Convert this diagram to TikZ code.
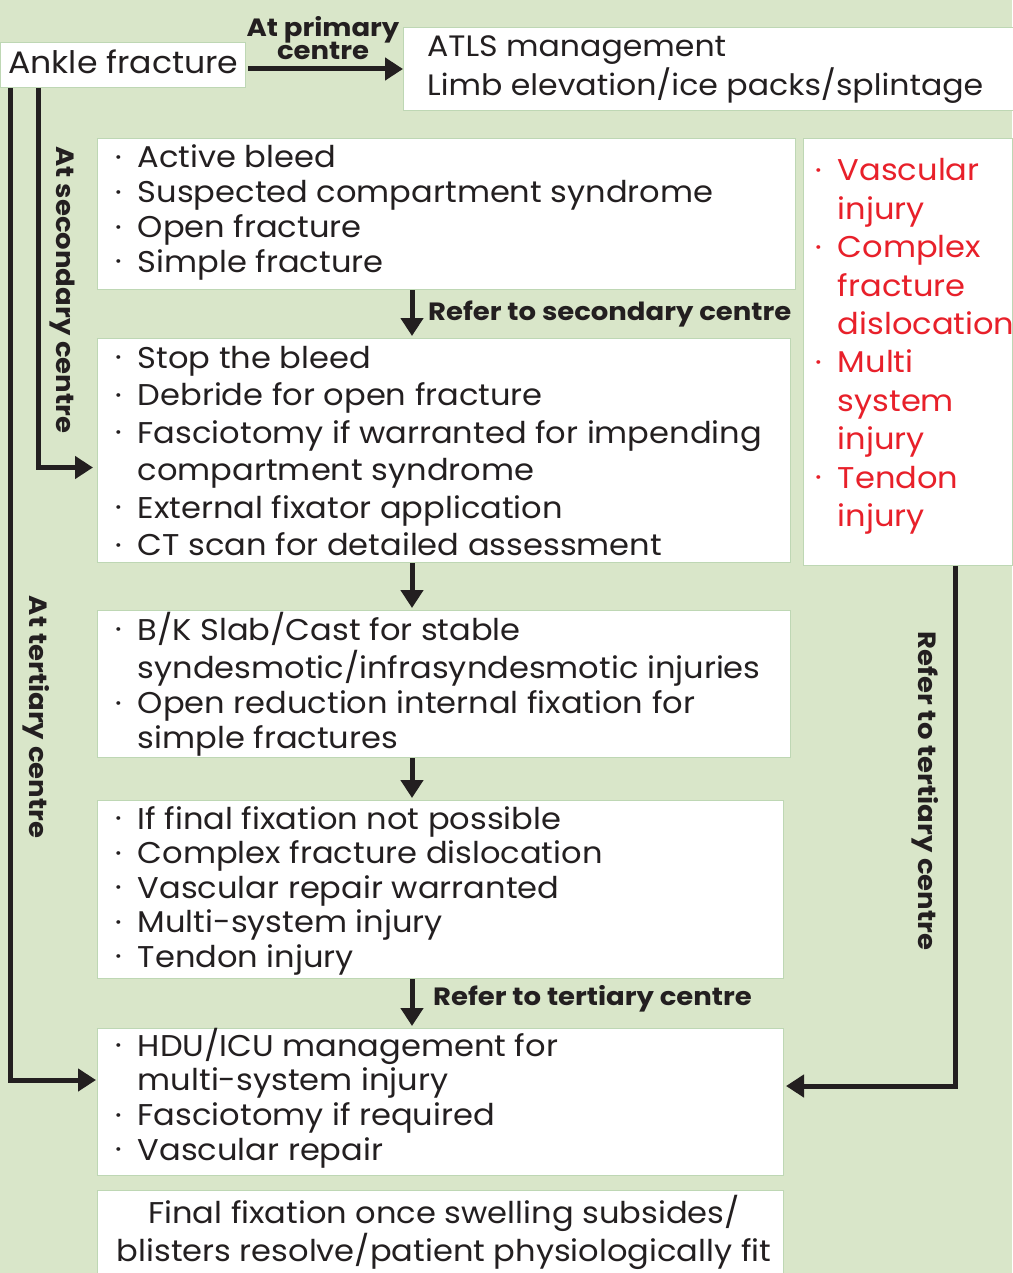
\documentclass[tikz,border=0pt]{standalone}
\usepackage{fontspec}
\setmainfont{Poppins}[FakeStretch=1.07]
\newfontfamily\lblfont{Poppins}[FakeStretch=1.1]
\usetikzlibrary{arrows.meta,calc}
\definecolor{bg}{RGB}{217,230,201}
\definecolor{edge}{RGB}{190,215,180}
\definecolor{ink}{RGB}{35,31,32}
\definecolor{redtxt}{RGB}{232,32,42}
\newcommand\fsz[2]{\fontsize{#1}{#2}\selectfont}
\newcommand\bul{\raisebox{0.32ex}{\scalebox{0.5}{•}}}
\tikzset{
  box/.style={draw=edge, line width=1pt, fill=white, inner sep=0pt, anchor=north west},
  txt/.style={inner sep=0pt, anchor=base west, text=ink},
  lbl/.style={inner sep=0pt, text=ink, font=\lblfont\bfseries\fsz{25}{24}},
  arr/.style={draw=ink, line width=5pt, -{Triangle[length=18pt,width=22pt]}},
}
\begin{document}
\begin{tikzpicture}[x=1pt,y=-1pt]
\fill[bg] (0,0) rectangle (1012,1273);
\useasboundingbox (0,0) rectangle (1012,1273);
% boxes
\node[box, minimum width=245, minimum height=45] (ankle) at (0,42) {};
\node[box, minimum width=612, minimum height=83] (atls) at (403,27) {};
\node[box, minimum width=698, minimum height=151] (b1) at (97,138) {};
\node[box, minimum width=209, minimum height=427] (red) at (803,138) {};
\node[box, minimum width=693, minimum height=224] (b2) at (97,338) {};
\node[box, minimum width=693, minimum height=147] (b3) at (97,610) {};
\node[box, minimum width=686, minimum height=178] (b4) at (97,800) {};
\node[box, minimum width=686, minimum height=147] (b5) at (97,1028) {};
\node[box, minimum width=686, minimum height=90] (b6) at (97,1190) {};
% texts
\node[txt] (tankle) at (8,74) {\fsz{31}{35}Ankle fracture};
\node[txt] (tatls) at (427,57) {\fsz{29.5}{37}\begin{tabular}[t]{@{}l@{}}ATLS management\\ Limb elevation/ice packs/splintage\end{tabular}};
\node[txt] (t1) at (115,168) {\fsz{30}{34.7}\begin{tabular}[t]{@{}l@{\hspace{16pt}}l@{}}
\bul & Active bleed\\ \bul & Suspected compartment syndrome\\ \bul & Open fracture\\ \bul & Simple fracture\end{tabular}};
\node[txt, text=redtxt] (tred) at (815,181) {\fsz{30}{38.4}\begin{tabular}[t]{@{}l@{\hspace{16pt}}l@{}}
\bul & Vascular\\ & injury\\ \bul & Complex\\ & fracture\\ & dislocation\\ \bul & Multi\\ & system\\ & injury\\ \bul & Tendon\\ & injury\end{tabular}};
\node[txt] (t2) at (115,368) {\fsz{30}{37.5}\begin{tabular}[t]{@{}l@{\hspace{16pt}}l@{}}
\bul & Stop the bleed\\ \bul & Debride for open fracture\\ \bul & Fasciotomy if warranted for impending\\ & compartment syndrome\\ \bul & External fixator application\\ \bul & CT scan for detailed assessment\end{tabular}};
\node[txt] (t3) at (115,640) {\fsz{30}{34.7}\begin{tabular}[t]{@{}l@{\hspace{16pt}}l@{}}
\bul & B/K Slab/Cast for stable\\ & syndesmotic/infrasyndesmotic injuries\\ \bul & Open reduction internal fixation for\\ & simple fractures\end{tabular}};
\node[txt] (t4) at (115,829) {\fsz{30}{34.5}\begin{tabular}[t]{@{}l@{\hspace{16pt}}l@{}}
\bul & If final fixation not possible\\ \bul & Complex fracture dislocation\\ \bul & Vascular repair warranted\\ \bul & Multi-system injury\\ \bul & Tendon injury\end{tabular}};
\node[txt] (t5) at (115,1056) {\fsz{30}{34.7}\begin{tabular}[t]{@{}l@{\hspace{16pt}}l@{}}
\bul & HDU/ICU management for\\ & multi-system injury\\ \bul & Fasciotomy if required\\ \bul & Vascular repair\end{tabular}};
\node[txt, anchor=base] (t6) at (444,1223) {\fsz{30}{35}\begin{tabular}[t]{@{}c@{}}Final fixation once swelling subsides/\\ blisters resolve/patient physiologically fit\end{tabular}};
% connectors
\coordinate (col) at (412,0);
\draw[arr] ([xshift=2]ankle.east |- atls.west) -- (atls.west);
\draw[arr] (b1.south -| col) -- ([yshift=2]b2.north -| col);
\draw[arr] (b2.south -| col) -- ([yshift=2]b3.north -| col);
\draw[arr] (b3.south -| col) -- ([yshift=2]b4.north -| col);
\draw[arr] (b4.south -| col) -- ([yshift=2]b5.north -| col);
\draw[arr] ([xshift=10]ankle.south west) |- ([yshift=22,xshift=-1]b5.west);
\draw[arr] ([xshift=38]ankle.south west) |- ([yshift=-17,xshift=-4]b2.west);
\draw[arr] ([xshift=152]red.south west) |- ([yshift=16,xshift=2]b5.east);
% labels
\node[lbl, anchor=base] (lprim1) at (323,37) {At primary};
\node[lbl, anchor=base] (lprim2) at (323,60) {centre};
\node[lbl, anchor=west] (lsec) at (428,314) {Refer to secondary centre};
\node[lbl, anchor=west] (lter) at (433,999) {Refer to tertiary centre};
\node[lbl, rotate=-90] (lasec) at (62,290) {At secondary centre};
\node[lbl, rotate=-90] (later) at (36,717) {At tertiary centre};
\node[lbl, rotate=-90] (lrter) at (925,791) {Refer to tertiary centre};
\end{tikzpicture}
\end{document}
